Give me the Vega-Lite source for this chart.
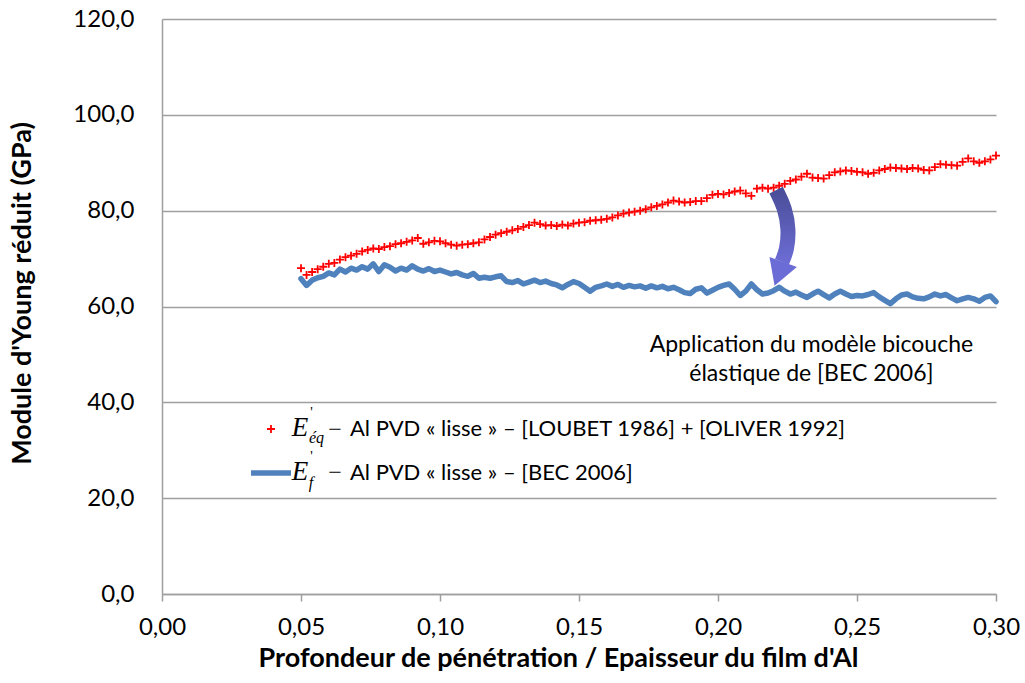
{
  "$schema": "https://vega.github.io/schema/vega-lite/v6.json",
  "width": 834,
  "height": 575,
  "autosize": "none",
  "padding": {"left": 162, "top": 19, "right": 29, "bottom": 89},
  "background": "white",
  "config": {
    "view": {"stroke": null},
    "font": "Lato",
    "axis": {"labelFont": "Lato", "titleFont": "Lato", "labelColor": "#000000", "titleColor": "#000000"}
  },
  "datasets": {
    "eq": [
      {"x":0.050,"y":68.0},{"x":0.052,"y":66.6},{"x":0.054,"y":67.2},{"x":0.056,"y":67.8},{"x":0.058,"y":68.3},
      {"x":0.060,"y":68.9},{"x":0.062,"y":69.1},{"x":0.064,"y":69.8},{"x":0.066,"y":70.3},{"x":0.068,"y":70.6},
      {"x":0.070,"y":71.0},{"x":0.072,"y":71.5},{"x":0.074,"y":71.8},{"x":0.076,"y":72.1},{"x":0.078,"y":72.0},
      {"x":0.080,"y":72.4},{"x":0.082,"y":72.6},{"x":0.084,"y":73.0},{"x":0.086,"y":73.2},{"x":0.088,"y":73.5},
      {"x":0.090,"y":73.8},{"x":0.092,"y":74.3},{"x":0.094,"y":73.1},{"x":0.096,"y":73.4},{"x":0.098,"y":73.7},
      {"x":0.100,"y":73.6},{"x":0.102,"y":73.2},{"x":0.104,"y":72.9},{"x":0.106,"y":72.7},{"x":0.108,"y":72.9},
      {"x":0.110,"y":73.0},{"x":0.112,"y":73.2},{"x":0.114,"y":73.4},{"x":0.116,"y":74.0},{"x":0.118,"y":74.5},
      {"x":0.120,"y":75.0},{"x":0.122,"y":75.3},{"x":0.124,"y":75.6},{"x":0.126,"y":75.9},{"x":0.128,"y":76.2},
      {"x":0.130,"y":76.6},{"x":0.132,"y":77.0},{"x":0.134,"y":77.5},{"x":0.136,"y":77.2},{"x":0.138,"y":76.9},
      {"x":0.140,"y":77.0},{"x":0.142,"y":76.8},{"x":0.144,"y":77.1},{"x":0.146,"y":76.9},{"x":0.148,"y":77.3},
      {"x":0.150,"y":77.5},{"x":0.152,"y":77.6},{"x":0.154,"y":77.9},{"x":0.156,"y":78.0},{"x":0.158,"y":78.1},
      {"x":0.160,"y":78.3},{"x":0.162,"y":78.6},{"x":0.164,"y":79.0},{"x":0.166,"y":79.4},{"x":0.168,"y":79.6},
      {"x":0.170,"y":79.8},{"x":0.172,"y":80.0},{"x":0.174,"y":80.3},{"x":0.176,"y":80.7},{"x":0.178,"y":81.0},
      {"x":0.180,"y":81.3},{"x":0.182,"y":81.7},{"x":0.184,"y":82.1},{"x":0.186,"y":81.9},{"x":0.188,"y":81.7},
      {"x":0.190,"y":81.8},{"x":0.192,"y":82.0},{"x":0.194,"y":82.0},{"x":0.196,"y":82.6},{"x":0.198,"y":83.3},
      {"x":0.200,"y":83.5},{"x":0.202,"y":83.4},{"x":0.204,"y":83.7},{"x":0.206,"y":84.0},{"x":0.208,"y":84.2},
      {"x":0.210,"y":83.6},{"x":0.212,"y":83.1},{"x":0.214,"y":84.6},{"x":0.216,"y":84.8},{"x":0.218,"y":84.6},
      {"x":0.220,"y":84.8},{"x":0.222,"y":85.2},{"x":0.224,"y":85.6},{"x":0.226,"y":86.2},{"x":0.228,"y":86.5},
      {"x":0.230,"y":87.1},{"x":0.232,"y":87.7},{"x":0.234,"y":86.9},{"x":0.236,"y":86.8},{"x":0.238,"y":86.7},
      {"x":0.240,"y":87.4},{"x":0.242,"y":88.0},{"x":0.244,"y":88.2},{"x":0.246,"y":88.4},{"x":0.248,"y":88.3},
      {"x":0.250,"y":88.1},{"x":0.252,"y":88.0},{"x":0.254,"y":87.7},{"x":0.256,"y":87.9},{"x":0.258,"y":88.4},
      {"x":0.260,"y":88.7},{"x":0.262,"y":89.0},{"x":0.264,"y":88.9},{"x":0.266,"y":88.8},{"x":0.268,"y":88.7},
      {"x":0.270,"y":88.9},{"x":0.272,"y":88.8},{"x":0.274,"y":88.5},{"x":0.276,"y":88.4},{"x":0.278,"y":89.1},
      {"x":0.280,"y":89.7},{"x":0.282,"y":89.6},{"x":0.284,"y":89.5},{"x":0.286,"y":89.4},{"x":0.288,"y":90.2},
      {"x":0.290,"y":90.9},{"x":0.292,"y":90.3},{"x":0.294,"y":90.0},{"x":0.296,"y":90.3},{"x":0.298,"y":90.7},
      {"x":0.300,"y":91.5}
    ],
    "f": [
      {"x":0.050,"y":65.8},{"x":0.052,"y":64.4},{"x":0.054,"y":65.5},{"x":0.056,"y":66.0},{"x":0.058,"y":66.3},
      {"x":0.060,"y":67.0},{"x":0.062,"y":66.6},{"x":0.064,"y":67.8},{"x":0.066,"y":67.2},{"x":0.068,"y":68.0},
      {"x":0.070,"y":67.6},{"x":0.072,"y":68.3},{"x":0.074,"y":67.8},{"x":0.076,"y":68.9},{"x":0.078,"y":67.3},
      {"x":0.080,"y":68.7},{"x":0.082,"y":68.2},{"x":0.084,"y":67.4},{"x":0.086,"y":68.0},{"x":0.088,"y":67.6},
      {"x":0.090,"y":68.5},{"x":0.092,"y":67.8},{"x":0.094,"y":67.4},{"x":0.096,"y":67.9},{"x":0.098,"y":67.3},
      {"x":0.100,"y":67.6},{"x":0.102,"y":67.2},{"x":0.104,"y":66.8},{"x":0.106,"y":67.1},{"x":0.108,"y":66.6},
      {"x":0.110,"y":66.3},{"x":0.112,"y":66.9},{"x":0.114,"y":65.9},{"x":0.116,"y":66.1},{"x":0.118,"y":65.9},
      {"x":0.120,"y":66.2},{"x":0.122,"y":66.4},{"x":0.124,"y":65.2},{"x":0.126,"y":65.0},{"x":0.128,"y":65.4},
      {"x":0.130,"y":64.7},{"x":0.132,"y":65.1},{"x":0.134,"y":65.5},{"x":0.136,"y":65.0},{"x":0.138,"y":65.3},
      {"x":0.140,"y":64.8},{"x":0.142,"y":64.5},{"x":0.144,"y":63.9},{"x":0.146,"y":64.6},{"x":0.148,"y":65.2},
      {"x":0.150,"y":64.8},{"x":0.152,"y":64.0},{"x":0.154,"y":63.2},{"x":0.156,"y":64.0},{"x":0.158,"y":64.3},
      {"x":0.160,"y":64.7},{"x":0.162,"y":64.2},{"x":0.164,"y":64.6},{"x":0.166,"y":64.0},{"x":0.168,"y":64.4},
      {"x":0.170,"y":64.1},{"x":0.172,"y":64.3},{"x":0.174,"y":63.8},{"x":0.176,"y":64.3},{"x":0.178,"y":63.9},
      {"x":0.180,"y":64.2},{"x":0.182,"y":63.7},{"x":0.184,"y":64.0},{"x":0.186,"y":63.5},{"x":0.188,"y":62.9},
      {"x":0.190,"y":62.7},{"x":0.192,"y":63.6},{"x":0.194,"y":63.9},{"x":0.196,"y":62.8},{"x":0.198,"y":63.4},
      {"x":0.200,"y":64.0},{"x":0.202,"y":64.4},{"x":0.204,"y":64.7},{"x":0.206,"y":63.6},{"x":0.208,"y":62.3},
      {"x":0.210,"y":63.2},{"x":0.212,"y":64.7},{"x":0.214,"y":63.5},{"x":0.216,"y":62.6},{"x":0.218,"y":62.8},
      {"x":0.220,"y":63.3},{"x":0.222,"y":64.0},{"x":0.224,"y":63.2},{"x":0.226,"y":62.6},{"x":0.228,"y":63.0},
      {"x":0.230,"y":62.4},{"x":0.232,"y":61.9},{"x":0.234,"y":62.6},{"x":0.236,"y":63.2},{"x":0.238,"y":62.5},
      {"x":0.240,"y":61.8},{"x":0.242,"y":62.6},{"x":0.244,"y":63.2},{"x":0.246,"y":62.6},{"x":0.248,"y":62.1},
      {"x":0.250,"y":62.3},{"x":0.252,"y":62.2},{"x":0.254,"y":62.5},{"x":0.256,"y":62.9},{"x":0.258,"y":62.0},
      {"x":0.260,"y":61.3},{"x":0.262,"y":60.6},{"x":0.264,"y":61.6},{"x":0.266,"y":62.4},{"x":0.268,"y":62.6},
      {"x":0.270,"y":62.0},{"x":0.272,"y":61.7},{"x":0.274,"y":61.6},{"x":0.276,"y":62.0},{"x":0.278,"y":62.6},
      {"x":0.280,"y":62.2},{"x":0.282,"y":62.5},{"x":0.284,"y":61.8},{"x":0.286,"y":61.2},{"x":0.288,"y":61.6},
      {"x":0.290,"y":61.9},{"x":0.292,"y":61.6},{"x":0.294,"y":61.1},{"x":0.296,"y":61.9},{"x":0.298,"y":62.2},
      {"x":0.300,"y":61.0}
    ],
    "arrow": [
      {"i":1,"x":0.2209,"y":84.3},
      {"i":2,"x":0.2241,"y":80.6},
      {"i":3,"x":0.2255,"y":76.0},
      {"i":4,"x":0.2248,"y":71.8},
      {"i":5,"x":0.2230,"y":69.3}
    ],
    "arrowhead": [{"x":0.2219,"y":66.8}],
    "note": [{"x":0.2336,"y":51.9,"t":"Application du modèle bicouche\nélastique de [BEC 2006]"}],
    "math": [
      {"k":"E","x":0.0496,"y":34.6,"t":"E"},
      {"k":"E","x":0.0496,"y":25.5,"t":"E"},
      {"k":"p","x":0.0538,"y":37.8,"t":"'"},
      {"k":"p","x":0.0538,"y":28.6,"t":"'"},
      {"k":"s","x":0.0556,"y":32.6,"t":"éq"},
      {"k":"s","x":0.0536,"y":23.2,"t":"f"},
      {"k":"d","x":0.0622,"y":34.3,"t":"−"},
      {"k":"d","x":0.0622,"y":25.3,"t":"−"}
    ]
  },
  "encoding": {
    "x": {
      "field": "x", "type": "quantitative",
      "scale": {"domain": [0, 0.3], "nice": false, "zero": false},
      "axis": {
        "values": [0, 0.05, 0.1, 0.15, 0.2, 0.25, 0.3],
        "labelExpr": "replace(format(datum.value, '.2f'), '.', ',')",
        "grid": false, "tickSize": 7, "tickColor": "#9F9F9F", "tickWidth": 1.5,
        "domainColor": "#9F9F9F", "domainWidth": 1.5,
        "labelFontSize": 24, "labelPadding": 14, "labelFlush": false, "labelOverlap": false,
        "title": "Profondeur de pénétration / Epaisseur du film d'Al",
        "titleFontSize": 27, "titleFontWeight": "bold", "titlePadding": 6, "titleX": 396
      }
    },
    "y": {
      "field": "y", "type": "quantitative",
      "scale": {"domain": [0, 120], "nice": false},
      "axis": {
        "values": [0, 20, 40, 60, 80, 100, 120],
        "labelExpr": "replace(format(datum.value, '.1f'), '.', ',')",
        "grid": true, "gridColor": "#9F9F9F", "gridWidth": 1.5,
        "ticks": false, "domainColor": "#9F9F9F", "domainWidth": 1.5,
        "labelFontSize": 24, "labelPadding": 28,
        "title": "Module d'Young réduit (GPa)",
        "titleFontSize": 27, "titleFontWeight": "bold", "titlePadding": 36, "titleY": 274
      }
    }
  },
  "layer": [
    {
      "data": {"name": "f"},
      "mark": {"type": "line", "strokeWidth": 5.5, "strokeJoin": "round", "strokeCap": "round"},
      "encoding": {
        "color": {
          "datum": "Al PVD « lisse » – [BEC 2006]",
          "type": "nominal",
          "scale": {
            "domain": ["Al PVD « lisse » – [LOUBET 1986] + [OLIVER 1992]", "Al PVD « lisse » – [BEC 2006]"],
            "range": ["#FF0000", "#4F81BD"]
          },
          "legend": {
            "orient": "none", "legendX": 98, "legendY": 399, "title": null,
            "symbolSize": 1600, "labelOffset": 68, "rowPadding": 22,
            "labelFont": "Lato", "labelFontSize": 22, "labelLimit": 0, "labelColor": "#000000",
            "padding": 0,
            "encode": {
              "symbols": {
                "update": {
                  "shape": {"signal": "datum.index == 0 ? 'M-1,0H1M0,-1V1' : 'stroke'"},
                  "size": {"signal": "datum.index == 0 ? 64 : 1600"},
                  "strokeWidth": {"signal": "datum.index == 0 ? 1.8 : 5.5"},
                  "stroke": {"signal": "datum.index == 0 ? '#FF0000' : '#4F81BD'"},
                  "fill": {"value": "transparent"},
                  "opacity": {"value": 1},
                  "strokeOpacity": {"value": 1}
                }
              }
            }
          }
        }
      }
    },
    {
      "data": {"name": "eq"},
      "mark": {"type": "point", "shape": "M-1,0H1M0,-1V1", "filled": false, "size": 64, "strokeWidth": 1.8, "opacity": 1},
      "encoding": {
        "color": {"datum": "Al PVD « lisse » – [LOUBET 1986] + [OLIVER 1992]", "type": "nominal"}
      }
    },
    {
      "data": {"name": "arrow"},
      "mark": {
        "type": "line", "interpolate": "basis", "strokeWidth": 15, "strokeCap": "butt",
        "color": {"gradient": "linear", "x1": 0, "y1": 0, "x2": 0, "y2": 1,
          "stops": [{"offset": 0, "color": "#4A4E98"}, {"offset": 1, "color": "#6C6CD4"}]}
      },
      "encoding": {"order": {"field": "i", "type": "quantitative"}}
    },
    {
      "data": {"name": "arrowhead"},
      "mark": {"type": "point", "shape": "triangle-down", "filled": true, "size": 850, "angle": 20, "color": "#6C6CD6", "opacity": 1}
    },
    {
      "data": {"name": "note"},
      "mark": {"type": "text", "font": "Lato", "fontSize": 23, "lineBreak": "\n", "lineHeight": 29, "align": "center", "baseline": "middle", "color": "#000000"},
      "encoding": {"text": {"field": "t"}}
    },
    {
      "data": {"name": "math"},
      "transform": [{"filter": "datum.k == 'E'"}],
      "mark": {"type": "text", "font": "Liberation Serif", "fontStyle": "italic", "fontSize": 27, "align": "center", "baseline": "middle", "color": "#000000"},
      "encoding": {"text": {"field": "t"}}
    },
    {
      "data": {"name": "math"},
      "transform": [{"filter": "datum.k == 'p'"}],
      "mark": {"type": "text", "font": "Liberation Serif", "fontSize": 14, "align": "center", "baseline": "middle", "color": "#000000"},
      "encoding": {"text": {"field": "t"}}
    },
    {
      "data": {"name": "math"},
      "transform": [{"filter": "datum.k == 's'"}],
      "mark": {"type": "text", "font": "Liberation Serif", "fontStyle": "italic", "fontSize": 16, "align": "center", "baseline": "middle", "color": "#000000"},
      "encoding": {"text": {"field": "t"}}
    },
    {
      "data": {"name": "math"},
      "transform": [{"filter": "datum.k == 'd'"}],
      "mark": {"type": "text", "font": "Liberation Serif", "fontSize": 24, "align": "center", "baseline": "middle", "color": "#000000"},
      "encoding": {"text": {"field": "t"}}
    }
  ]
}
